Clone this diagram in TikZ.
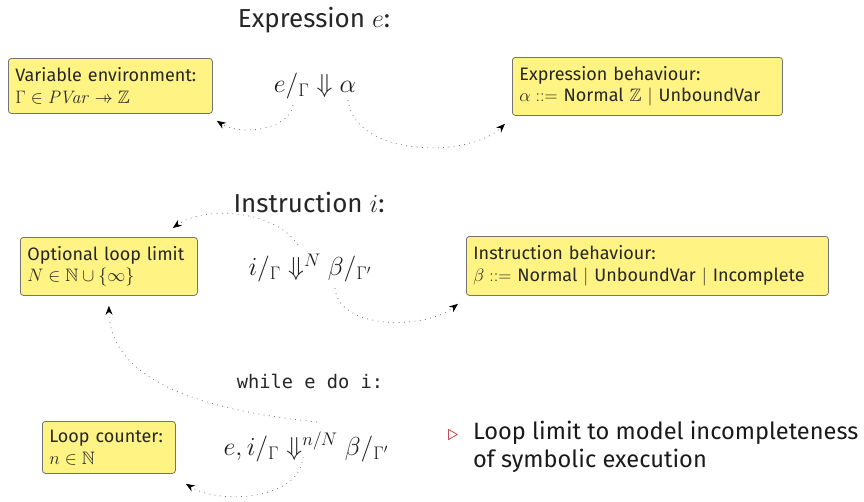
\RequirePackage{fix-cm}
\documentclass[tikz,border=0pt]{standalone}
\usepackage{amsmath,amssymb}
\usepackage[no-math]{fontspec}
\setmainfont{Fira Sans}
\setsansfont{Fira Sans}
\setmonofont{DejaVu Sans Mono}
\usetikzlibrary{arrows.meta,calc}
\definecolor{boxyellow}{HTML}{FFF383}
\definecolor{bulletred}{HTML}{C0272D}
\newcommand{\mypfun}{\mathrel{\mkern9mu\mapstochar\mkern-9mu\rightarrow}}
\begin{document}
\begin{tikzpicture}[x=1pt,y=-1pt,
  box/.style={draw=black!55, line width=0.8pt, fill=boxyellow, rounded corners=3pt,
    align=left, inner xsep=7pt, inner ysep=0pt, text=black!85, anchor=north west,
    font=\fontsize{18}{21.5}\selectfont},
  formula/.style={text=black!90, font=\fontsize{26}{30}\selectfont},
  heading/.style={text=black!85, font=\fontsize{26}{30}\selectfont},
  link/.style={draw=black!55, line width=0.8pt, dash pattern=on 0.8pt off 4.5pt,
    -{Stealth[length=9pt,width=7pt,black]}}
]
\useasboundingbox (0,0) rectangle (864,501);

% boxes
\node[box, text width=190pt, minimum height=55pt] (venv) at (8,58)
  {Variable environment:\\ $\Gamma\in \mathit{PVar}\mypfun\mathbb{Z}$};
\node[box, text width=256pt, minimum height=58pt] (ebeh) at (512,57)
  {Expression behaviour:\\ $\alpha \mathrel{::=}$ Normal $\mathbb{Z}$ $\mid$ UnboundVar};
\node[box, text width=163pt, minimum height=58pt] (olim) at (20,237)
  {Optional loop limit\\ $N\in\mathbb{N}\cup\{\infty\}$};
\node[box, text width=348pt, minimum height=59pt] (ibeh) at (466,236)
  {Instruction behaviour:\\ $\beta \mathrel{::=}$ Normal $\mid$ UnboundVar $\mid$ Incomplete};
\node[box, text width=119pt, minimum height=52pt] (lcnt) at (42,421)
  {Loop counter:\\ $n\in\mathbb{N}$};

% headings
\node[heading] (hexpr) at (314,20) {Expression $e$:};
\node[heading] (hinst) at (309,203) {Instruction $i$:};
\node[text=black!85, font=\ttfamily\fontsize{18.7}{22}\selectfont] (hwhile) at (310,381) {while e do i:};

% formulas
\node[formula] (fexpr) at (315,86) {$e/_{\Gamma}\Downarrow\alpha$};
\node[formula] (finst) at (310,268) {$i/_{\Gamma}\Downarrow^{N}\beta/_{\Gamma'}$};
\node[formula] (fwhile) at (306,447) {$e,i/_{\Gamma}\Downarrow^{n/N}\beta/_{\Gamma'}$};

% bullet
\node[anchor=base west, text=bulletred, font=\fontsize{22}{28}\selectfont] (tri) at (444,440) {$\triangleright$};
\node[anchor=north west, align=left, inner sep=0pt, text=black!90, font=\fontsize{23.6}{28}\selectfont] (bullet) at (473,421)
  {Loop limit to model incompleteness\\of symbolic execution};

% connector end points
\coordinate (s1) at (293,105);
\coordinate (s2) at (348,100);
\coordinate (s3) at (298,245);
\coordinate (s4) at (335,288);
\coordinate (s5) at (317,422);
\coordinate (s6) at (303,457);
\coordinate (t1) at ($(venv.south east)+(4,7)$);
\coordinate (t2) at ($(ebeh.south west)+(-7,8)$);
\coordinate (t3) at ($(olim.north east)+(-25,-9)$);
\coordinate (t4) at ($(ibeh.south west)+(-8,8)$);
\coordinate (t5) at ($(olim.south)+(0,10)$);
\coordinate (t6) at ($(lcnt.south east)+(10,10)$);

% connectors
\draw[link] (s1) .. controls (290,130) and (240,136) .. (t1);
\draw[link] (s2) .. controls (355,158) and (470,158) .. (t2);
\draw[link] (s3) .. controls (275,210) and (205,205) .. (t3);
\draw[link] (s4) .. controls (338,330) and (425,330) .. (t4);
\draw[link] (s5) .. controls (200,410) and (110,380) .. (t5);
\draw[link] (s6) .. controls (300,500) and (220,505) .. (t6);
\end{tikzpicture}
\end{document}
